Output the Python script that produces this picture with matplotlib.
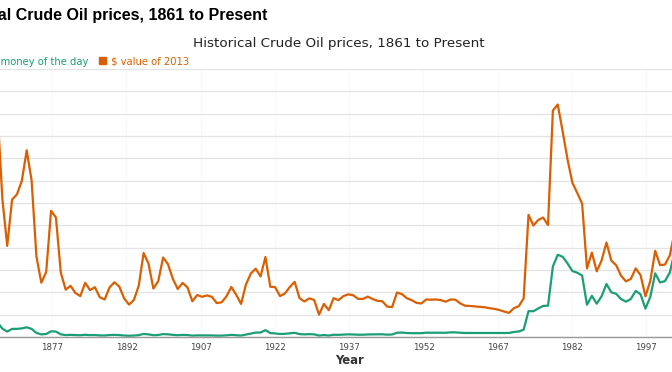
import numpy as np
import matplotlib
matplotlib.use("Agg")
import matplotlib.pyplot as plt
from matplotlib.patches import Rectangle

# ---------------- data ----------------
years = list(range(1861, 2014))

money_of_day = [
    0.49, 1.05, 3.15, 8.06, 6.59, 3.74, 2.41, 3.63, 3.64, 3.86,   # 1861-1870
    4.34, 3.64, 1.83, 1.17, 1.35, 2.56, 2.42, 1.19, 0.86, 0.95,   # 1871-1880
    0.86, 0.78, 1.00, 0.84, 0.88, 0.71, 0.67, 0.88, 0.94, 0.87,   # 1881-1890
    0.67, 0.56, 0.64, 0.84, 1.36, 1.18, 0.79, 0.91, 1.29, 1.19,   # 1891-1900
    0.96, 0.80, 0.94, 0.86, 0.62, 0.73, 0.72, 0.72, 0.70, 0.61,   # 1901-1910
    0.61, 0.74, 0.95, 0.81, 0.64, 1.10, 1.56, 1.98, 2.01, 3.07,   # 1911-1920
    1.73, 1.61, 1.34, 1.43, 1.68, 1.88, 1.30, 1.17, 1.27, 1.19,   # 1921-1930
    0.65, 0.87, 0.67, 1.00, 0.97, 1.09, 1.18, 1.13, 1.02, 1.02,   # 1931-1940
    1.14, 1.19, 1.20, 1.21, 1.05, 1.12, 1.90, 1.99, 1.78, 1.71,   # 1941-1950
    1.71, 1.71, 1.93, 1.93, 1.93, 1.93, 1.90, 2.08, 2.08, 1.90,   # 1951-1960
    1.80, 1.80, 1.80, 1.80, 1.80, 1.80, 1.80, 1.80, 1.80, 1.80,   # 1961-1970
    2.24, 2.48, 3.29, 11.58, 11.53, 12.80, 13.92, 14.02, 31.61, 36.83,  # 1971-1980
    35.93, 32.97, 29.55, 28.78, 27.56, 14.43, 18.44, 14.92, 18.23, 23.73,  # 1981-1990
    20.00, 19.32, 16.97, 15.82, 17.02, 20.67, 19.09, 12.72, 17.97, 28.50,  # 1991-2000
    24.44, 25.02, 28.83, 38.27, 54.52, 65.14, 72.39, 97.26, 61.67, 79.50,  # 2001-2010
    111.26, 111.67, 108.66,                                             # 2011-2013
]

value_2013 = [
    12.7, 23.0, 56.7, 119.9, 101.5, 62.0, 40.8, 61.5, 63.9, 69.9,     # 1861-1870
    83.6, 70.2, 36.0, 24.3, 29.1, 56.5, 53.5, 28.8, 21.2, 22.9,       # 1871-1880
    19.7, 18.3, 24.3, 21.0, 22.3, 17.8, 16.8, 22.2, 24.5, 22.6,       # 1881-1890
    17.3, 14.5, 16.6, 23.0, 37.6, 32.9, 21.7, 25.0, 35.6, 32.6,       # 1891-1900
    26.0, 21.5, 24.2, 22.2, 16.0, 18.8, 18.0, 18.6, 18.0, 15.2,       # 1901-1910
    15.5, 18.2, 22.4, 18.9, 14.8, 23.5, 28.4, 30.6, 27.1, 35.8,       # 1911-1920
    22.5, 22.3, 18.3, 19.5, 22.4, 24.7, 17.4, 15.9, 17.3, 16.6,       # 1921-1930
    10.0, 14.8, 12.0, 17.4, 16.5, 18.3, 19.1, 18.7, 17.1, 17.0,       # 1931-1940
    18.1, 17.0, 16.2, 16.0, 13.6, 13.4, 19.9, 19.2, 17.4, 16.5,       # 1941-1950
    15.3, 15.0, 16.8, 16.7, 16.8, 16.5, 15.8, 16.8, 16.7, 15.0,       # 1951-1960
    14.0, 13.9, 13.7, 13.5, 13.3, 12.9, 12.6, 12.1, 11.4, 10.8,       # 1961-1970
    12.9, 13.8, 17.3, 54.7, 49.9, 52.4, 53.5, 50.1, 101.4, 104.1,     # 1971-1980
    92.1, 79.6, 69.1, 64.5, 59.7, 30.7, 37.8, 29.4, 34.3, 42.3,       # 1981-1990
    34.2, 32.1, 27.4, 24.9, 26.0, 30.7, 27.7, 18.2, 25.1, 38.6,       # 1991-2000
    32.2, 32.4, 36.5, 47.2, 65.0, 75.3, 81.4, 105.3, 67.0, 84.9,      # 2001-2010
    115.3, 113.3, 108.7,                                              # 2011-2013
]

tick_labels = ["1877", "1892", "1907", "1922", "1937", "1952", "1967", "1982", "1997"]

series_names = ["$ money of the day", "$ value of 2013"]
chart_title = "Historical Crude Oil prices, 1861 to Present"
x_title = "Year"

GREEN = "#1b9e77"
ORANGE = "#d95f02"

# ---------------- figure ----------------
W, H = 672, 372
fig = plt.figure(figsize=(W / 100, H / 100), dpi=100)
fig.patch.set_facecolor("white")

def fx(px):
    return px / W

def fy(py):
    return 1 - py / H

ax = fig.add_axes([0, fy(337), 1, (337 - 69) / H])
ax.set_facecolor("white")

# axis range: whole chart spans 1861..2013.4, shown cropped
ax.set_xlim(1865.52, 2003.45)
ax.set_ylim(0, 120)

ax.set_yticks(np.arange(0, 121, 10))
ax.yaxis.grid(True, color="#e3e3e3", lw=0.9, zorder=0)
ax.tick_params(axis="y", length=0, labelleft=False)

tick_pos = np.linspace(1861, 2013.4, 11)[1:-1]
ax.set_xticks(tick_pos)
ax.set_xticklabels(tick_labels)
ax.tick_params(axis="x", length=0, pad=4.2, labelsize=6.2, labelcolor="#444444")
for lab in ax.get_xticklabels():
    lab.set_family("DejaVu Sans")

# faint vertical gridlines (appear as small breaks)
for t in tick_pos:
    ax.axvline(t, color="#f8f8f8", lw=0.9, zorder=0.5)

for s in ["top", "left", "right"]:
    ax.spines[s].set_visible(False)
ax.spines["bottom"].set_color("#9a9a9a")
ax.spines["bottom"].set_linewidth(1.0)
ax.spines["bottom"].set_zorder(3)

ax.plot(years, money_of_day, color=GREEN, lw=1.6, zorder=2, solid_joinstyle="round")
ax.plot(years, value_2013, color=ORANGE, lw=1.6, zorder=2, solid_joinstyle="round")

# ---------------- texts ----------------
fig.text(fx(267), fy(20), chart_title, ha="right", va="baseline",
         fontsize=11.5, fontweight="bold", family="Liberation Sans", color="#000000")
fig.text(fx(338.5), fy(47.3), chart_title, ha="center", va="baseline",
         fontsize=9.7, family="DejaVu Sans", color="#222222")

fig.text(fx(88.5), fy(64.7), series_names[0], ha="right", va="baseline",
         fontsize=7.2, family="DejaVu Sans", color=GREEN)
fig.patches.append(Rectangle((fx(99), fy(64.3)), fx(7), 7 / H,
                             transform=fig.transFigure, color=ORANGE, figure=fig))
fig.text(fx(110.7), fy(64.7), series_names[1], ha="left", va="baseline",
         fontsize=7.2, family="DejaVu Sans", color=ORANGE)

fig.text(fx(349), fy(364.5), x_title, ha="center", va="baseline",
         fontsize=8.4, fontweight="bold", family="DejaVu Sans", color="#333333")

fig.savefig("out.png", dpi=100, facecolor="white")
